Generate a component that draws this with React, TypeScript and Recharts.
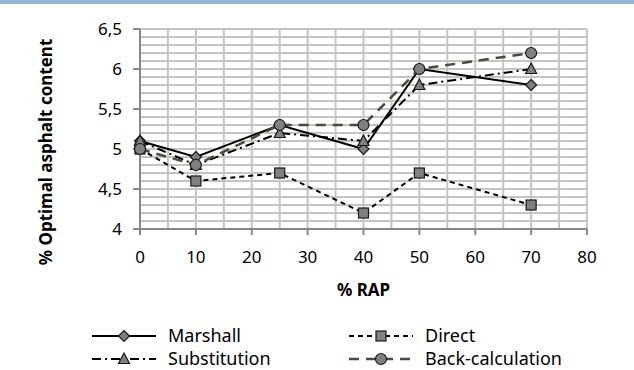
import React from "react";
import { LineChart, Line, XAxis, YAxis, CartesianGrid, Legend } from "recharts";

// % RAP values
const rap = [0, 10, 25, 40, 50, 70];
// Optimal asphalt content per method
const marshall = [5.1, 4.9, 5.3, 5.0, 6.0, 5.8];
const direct = [5.0, 4.6, 4.7, 4.2, 4.7, 4.3];
const substitution = [5.1, 4.8, 5.2, 5.1, 5.8, 6.0];
const backCalc = [5.0, 4.8, 5.3, 5.3, 6.0, 6.2];

const xTicks = [0, 10, 20, 30, 40, 50, 60, 70, 80];
const yTicks = [4, 4.5, 5, 5.5, 6, 6.5];
const xGridTicks = [0, 5, 10, 15, 20, 25, 30, 35, 40, 45, 50, 55, 60, 65, 70, 75, 80];
const yGridTicks = [
  4, 4.1, 4.2, 4.3, 4.4, 4.5, 4.6, 4.7, 4.8, 4.9, 5, 5.1, 5.2, 5.3, 5.4, 5.5, 5.6,
  5.7, 5.8, 5.9, 6, 6.1, 6.2, 6.3, 6.4, 6.5,
];

const data = rap.map((r, i) => ({
  rap: r,
  marshall: marshall[i],
  direct: direct[i],
  substitution: substitution[i],
  backCalc: backCalc[i],
}));

const FONT = "'Noto Sans', 'Open Sans', sans-serif";
const MARK_FILL = "#808080";
const MARK_STROKE = "#1a1a1a";
const OLIVE = "#4f4a34";

type Shape = "diamond" | "square" | "triangle" | "circle";

function Marker({ shape, cx, cy }: { shape: Shape; cx: number; cy: number }) {
  const s = 5.5;
  if (shape === "diamond")
    return (
      <polygon
        points={`${cx},${cy - s} ${cx + s},${cy} ${cx},${cy + s} ${cx - s},${cy}`}
        fill={MARK_FILL}
        stroke={MARK_STROKE}
        strokeWidth={1.2}
      />
    );
  if (shape === "square")
    return (
      <rect x={cx - 5} y={cy - 5} width={10} height={10} fill={MARK_FILL} stroke={MARK_STROKE} strokeWidth={1.2} />
    );
  if (shape === "triangle")
    return (
      <polygon
        points={`${cx},${cy - 6} ${cx + 5.5},${cy + 4.5} ${cx - 5.5},${cy + 4.5}`}
        fill={MARK_FILL}
        stroke={MARK_STROKE}
        strokeWidth={1.2}
      />
    );
  return <circle cx={cx} cy={cy} r={5.5} fill={MARK_FILL} stroke={MARK_STROKE} strokeWidth={1.2} />;
}

const dotFor = (shape: Shape) => (props: any) => {
  const { cx, cy, index } = props;
  return <Marker key={`${shape}-${index}`} shape={shape} cx={cx} cy={cy} />;
};

const series = [
  { key: "marshall", name: "Marshall", shape: "diamond" as Shape, color: "#000", dash: undefined, width: 2 },
  { key: "direct", name: "Direct", shape: "square" as Shape, color: "#000", dash: "5 4", width: 2 },
  { key: "substitution", name: "Substitution", shape: "triangle" as Shape, color: "#000", dash: "9 4 2 4", width: 2 },
  { key: "backCalc", name: "Back-calculation", shape: "circle" as Shape, color: OLIVE, dash: "10 7", width: 2.5 },
];

function LegendItem({ s }: { s: (typeof series)[number] }) {
  return (
    <div style={{ display: "flex", alignItems: "center", height: 23 }}>
      <svg width={66} height={16} style={{ marginRight: 11 }}>
        <line x1={1} y1={8} x2={65} y2={8} stroke={s.color} strokeWidth={s.width} strokeDasharray={s.dash} />
        <Marker shape={s.shape} cx={33} cy={8} />
      </svg>
      <span>{s.name}</span>
    </div>
  );
}

function ChartLegend() {
  return (
    <div
      style={{
        display: "grid",
        gridTemplateColumns: "257px 220px",
        paddingLeft: 91,
        paddingTop: 2,
        fontFamily: FONT,
        fontSize: 18,
        color: "#000",
        height: 48,
        lineHeight: "23px",
        boxSizing: "border-box",
      }}
    >
      <LegendItem s={series[0]} />
      <LegendItem s={series[1]} />
      <LegendItem s={series[2]} />
      <LegendItem s={series[3]} />
    </div>
  );
}

const tickStyle = { fontFamily: FONT, fontSize: 17, fill: "#000" };

export default function App() {
  return (
    <div style={{ position: "absolute", left: 0, top: 0, width: 634, height: 370, background: "#fff" }}>
      <div style={{ position: "absolute", left: 0, top: 0, width: 634, height: 4, background: "#95b3d7" }} />
      <LineChart width={634} height={370} data={data} margin={{ top: 29, right: 47, left: 0, bottom: 0 }}>
        <XAxis xAxisId="grid" dataKey="rap" type="number" domain={[0, 80]} ticks={xGridTicks} hide />
        <YAxis
          yAxisId="grid"
          dataKey="marshall"
          type="number"
          domain={[4, 6.5]}
          ticks={yGridTicks}
          allowDataOverflow
          interval={0}
          hide
        />
        <CartesianGrid xAxisId="grid" yAxisId="grid" stroke="#c4c4c4" strokeWidth={2} />
        <XAxis
          dataKey="rap"
          type="number"
          domain={[0, 80]}
          ticks={xTicks}
          height={93}
          tick={tickStyle}
          tickSize={6}
          tickMargin={16}
          stroke="#888"
          strokeWidth={2}
          label={{
            value: "% RAP",
            position: "insideTop",
            offset: 55,
            style: { fontFamily: FONT, fontSize: 17, fontWeight: 700, fill: "#000" },
          }}
        />
        <YAxis
          type="number"
          domain={[4, 6.5]}
          ticks={yTicks}
          width={140}
          tick={tickStyle}
          tickSize={7}
          tickMargin={11}
          stroke="#888"
          strokeWidth={2}
          tickFormatter={(v: number) => String(v).replace(".", ",")}
          label={{
            value: "% Optimal asphalt content",
            angle: -90,
            position: "insideLeft",
            offset: 0,
            dx: 46,
            dy: 23,
            style: { fontFamily: FONT, fontSize: 17, fontWeight: 700, fill: "#000", textAnchor: "middle" },
          }}
        />
        {series.map((s) => (
          <Line
            key={s.key}
            dataKey={s.key}
            name={s.name}
            stroke={s.color}
            strokeWidth={s.width}
            strokeDasharray={s.dash}
            dot={dotFor(s.shape)}
            activeDot={false}
            isAnimationActive={false}
          />
        ))}
        <Legend verticalAlign="bottom" height={48} content={() => <ChartLegend />} wrapperStyle={{ left: 0, width: 634 }} />
      </LineChart>
    </div>
  );
}
